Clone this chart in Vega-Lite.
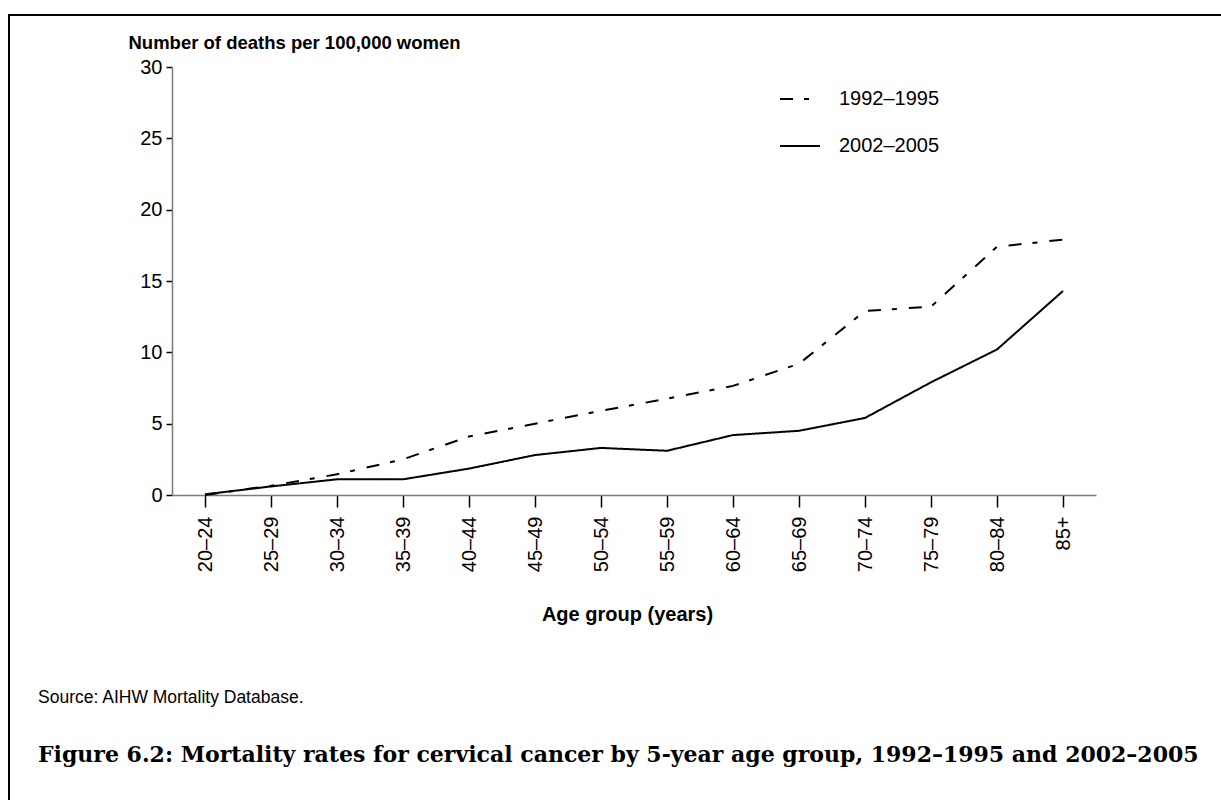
{
  "$schema": "https://vega.github.io/schema/vega-lite/v6.json",
  "autosize": {"type": "fit", "contains": "padding"},
  "width": 1221,
  "height": 800,
  "padding": {"left": 9, "top": 15, "right": -10, "bottom": -10},
  "background": "white",
  "title": {
    "text": "Figure 6.2: Mortality rates for cervical cancer by 5-year age group, 1992–1995 and 2002–2005",
    "subtitle": "Source: AIHW Mortality Database.",
    "orient": "bottom",
    "anchor": "start",
    "frame": "group",
    "offset": -65,
    "dx": 29,
    "font": "DejaVu Serif",
    "fontSize": 22,
    "fontWeight": "bold",
    "color": "black",
    "subtitleFont": "Liberation Sans",
    "subtitleFontSize": 17.5,
    "subtitleColor": "black",
    "subtitlePadding": -78
  },
  "data": {
    "values": [
      {"age": "20–24", "period": "1992–1995", "rate": 0.0},
      {"age": "25–29", "period": "1992–1995", "rate": 0.65},
      {"age": "30–34", "period": "1992–1995", "rate": 1.45},
      {"age": "35–39", "period": "1992–1995", "rate": 2.5},
      {"age": "40–44", "period": "1992–1995", "rate": 4.1},
      {"age": "45–49", "period": "1992–1995", "rate": 5.0},
      {"age": "50–54", "period": "1992–1995", "rate": 5.9},
      {"age": "55–59", "period": "1992–1995", "rate": 6.75},
      {"age": "60–64", "period": "1992–1995", "rate": 7.65},
      {"age": "65–69", "period": "1992–1995", "rate": 9.2},
      {"age": "70–74", "period": "1992–1995", "rate": 12.9},
      {"age": "75–79", "period": "1992–1995", "rate": 13.2},
      {"age": "80–84", "period": "1992–1995", "rate": 17.4},
      {"age": "85+", "period": "1992–1995", "rate": 17.9},
      {"age": "20–24", "period": "2002–2005", "rate": 0.05},
      {"age": "25–29", "period": "2002–2005", "rate": 0.6},
      {"age": "30–34", "period": "2002–2005", "rate": 1.1},
      {"age": "35–39", "period": "2002–2005", "rate": 1.1},
      {"age": "40–44", "period": "2002–2005", "rate": 1.85},
      {"age": "45–49", "period": "2002–2005", "rate": 2.8},
      {"age": "50–54", "period": "2002–2005", "rate": 3.3},
      {"age": "55–59", "period": "2002–2005", "rate": 3.1},
      {"age": "60–64", "period": "2002–2005", "rate": 4.2},
      {"age": "65–69", "period": "2002–2005", "rate": 4.5},
      {"age": "70–74", "period": "2002–2005", "rate": 5.4},
      {"age": "75–79", "period": "2002–2005", "rate": 7.9},
      {"age": "80–84", "period": "2002–2005", "rate": 10.2},
      {"age": "85+", "period": "2002–2005", "rate": 14.3}
    ]
  },
  "mark": {"type": "line", "color": "black", "strokeWidth": 2, "strokeCap": "butt"},
  "encoding": {
    "x": {
      "field": "age",
      "type": "ordinal",
      "sort": null,
      "scale": {"type": "point", "range": [163, 1087], "padding": 0.5},
      "axis": {
        "offset": -315,
        "labelAngle": 270,
        "labelFontSize": 20,
        "labelPadding": 9,
        "tickSize": 12,
        "title": "Age group (years)",
        "titleFontSize": 20,
        "titleFontWeight": "bold",
        "titleBaseline": "alphabetic",
        "titleY": 125,
        "titleX": 618
      }
    },
    "y": {
      "field": "rate",
      "type": "quantitative",
      "scale": {"domain": [0, 30], "range": [480, 52], "nice": false},
      "axis": {
        "offset": -163,
        "values": [0, 5, 10, 15, 20, 25, 30],
        "labelFontSize": 20,
        "labelPadding": 4,
        "tickSize": 6,
        "title": "Number of deaths per 100,000 women",
        "titleAngle": 0,
        "titleAlign": "left",
        "titleBaseline": "alphabetic",
        "titleFontSize": 18.5,
        "titleFontWeight": "bold",
        "titleX": -44,
        "titleY": 33
      }
    },
    "strokeDash": {
      "field": "period",
      "type": "nominal",
      "scale": {"domain": ["1992–1995", "2002–2005"], "range": [[13, 11, 5, 12], [1, 0]]},
      "legend": {
        "title": null,
        "orient": "none",
        "legendX": 770,
        "legendY": 63,
        "symbolType": "stroke",
        "symbolSize": 1600,
        "symbolStrokeWidth": 2,
        "symbolStrokeColor": "black",
        "labelFontSize": 20,
        "labelOffset": 18,
        "rowPadding": 16,
        "padding": 0
      }
    }
  },
  "config": {
    "font": "Liberation Sans",
    "view": {"stroke": "black", "strokeWidth": 2},
    "axis": {
      "grid": false,
      "domainColor": "#7a7a7a",
      "domainWidth": 1.5,
      "tickColor": "black",
      "tickWidth": 1.5,
      "labelColor": "black",
      "titleColor": "black",
      "labelFont": "Liberation Sans",
      "titleFont": "Liberation Sans"
    },
    "legend": {"labelColor": "black", "labelFont": "Liberation Sans"}
  }
}
